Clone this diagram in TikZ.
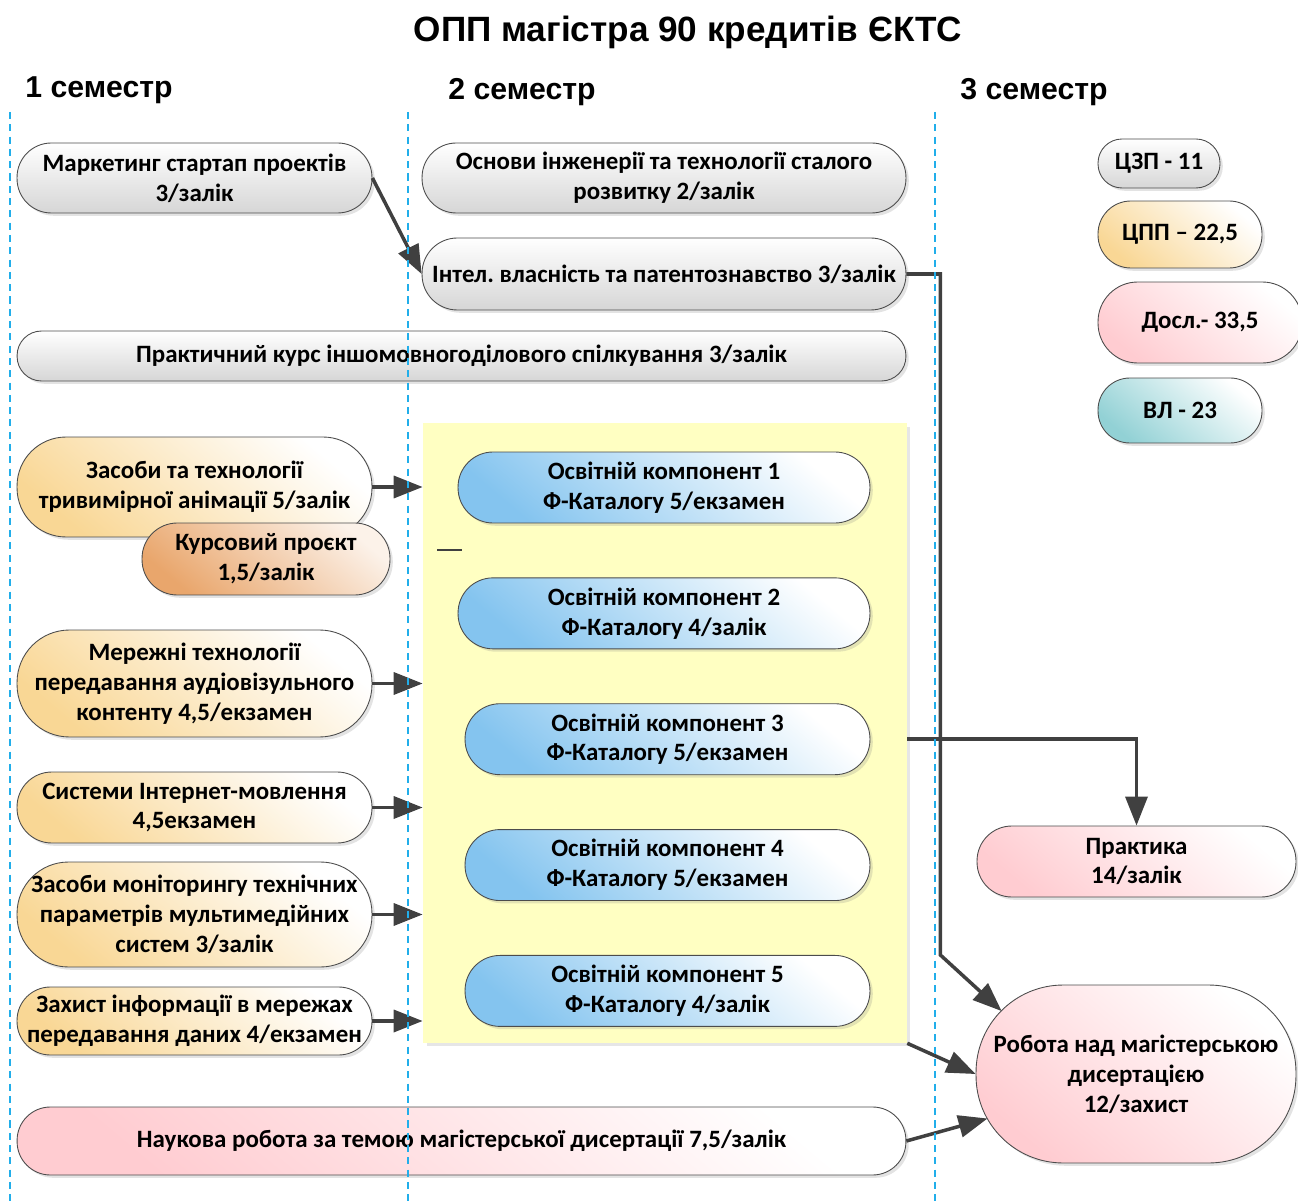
\documentclass[tikz,border=0pt]{standalone}
\usepackage{fontspec}
\setmainfont{Carlito}
\newfontfamily\titlefont{Liberation Sans}
\usepackage{xcolor}
\usepackage{tikz}
\usetikzlibrary{positioning,shadows,arrows.meta,calc}
\frenchspacing

\definecolor{lineGrey}{HTML}{404040}
\definecolor{sepBlue}{HTML}{21AEEA}
\definecolor{fillGrey}{HTML}{D6D6D6}
\definecolor{fillOrange}{HTML}{F9D795}
\definecolor{fillCourse}{HTML}{E9A66C}
\definecolor{fillBlue}{HTML}{84C4EF}
\definecolor{fillPink}{HTML}{FFCCD1}
\definecolor{fillTeal}{HTML}{92D1D5}
\definecolor{fillYellow}{HTML}{FFFFC2}

\begin{document}
\begin{tikzpicture}[x=0.02cm, y=-0.02cm, node distance=1.08cm, font=\bfseries\fontsize{14.2}{17}\selectfont]
    % Define styles
    \tikzstyle{pill} = [rectangle, draw=black!70, line width=0.5pt, align=center, inner sep=0pt, drop shadow={shadow xshift=1.6pt, shadow yshift=-1.6pt, opacity=0.22}]
    \tikzstyle{hgt} = [minimum height=#1, rounded corners=#1*0.49]
    \tikzstyle{greybox} = [pill, top color=white, bottom color=fillGrey]
    \tikzstyle{orangebox} = [pill, top color=white, bottom color=fillOrange, shading angle=-40]
    \tikzstyle{coursebox} = [pill, top color=white!85!fillCourse, bottom color=fillCourse, shading angle=-40]
    \tikzstyle{bluebox} = [pill, top color=white, bottom color=fillBlue, shading angle=-40, minimum height=1.42cm, rounded corners=0.7cm]
    \tikzstyle{pinkbox} = [pill, top color=white, bottom color=fillPink, shading angle=-40]
    \tikzstyle{tealbox} = [pill, top color=white, bottom color=fillTeal, shading angle=-40]
    \tikzstyle{pool} = [rectangle, fill=fillYellow, inner sep=0pt, drop shadow={shadow xshift=2pt, shadow yshift=-2pt, opacity=0.2}]
    \tikzstyle{semester} = [anchor=west, inner sep=0pt, font=\titlefont\bfseries\fontsize{17.2}{20}\selectfont]
    \tikzstyle{sep} = [sepBlue, line width=0.8pt, dash pattern=on 4pt off 3pt]
    \tikzstyle{arrow} = [line width=2pt, draw=lineGrey, -{Triangle[length=0.58cm, width=0.44cm]}]

    \useasboundingbox (0,0) rectangle (1298,1202);

    % Headings
    \node [font=\titlefont\bfseries\fontsize{20}{24}\selectfont] (title) at (688,32) {ОПП магістра 90 кредитів ЄКТС};
    \node [semester] (sem1) at (25,90) {1 семестр};
    \node [semester] (sem2) at (448,92) {2 семестр};
    \node [semester] (sem3) at (960,92) {3 семестр};

    % Catalogue block
    \node [pool, minimum width=9.68cm, minimum height=12.4cm] (pool) at (665,733) {};

    % Nodes
    \node [greybox, minimum width=7.1cm, hgt=1.4cm] (mkt) at (194.5,178) {Маркетинг стартап проектів\\3/залік};
    \node [greybox, minimum width=9.68cm, hgt=1.4cm] (basics) at (664,178) {Основи інженерії та технології сталого\\розвитку 2/залік};
    \node [greybox, minimum width=9.68cm, hgt=1.44cm] (ip) at (664,274) {Інтел. власність та патентознавство 3/залік};
    \node [greybox, minimum width=17.78cm, hgt=1.0cm] (lang) at (461.5,356) {Практичний курс іншомовногоділового спілкування 3/залік};

    \node [orangebox, minimum width=7.1cm, hgt=2.0cm] (anim) at (194.5,487) {Засоби та технології\\тривимірної анімації 5/залік};
    \node [coursebox, minimum width=4.96cm, hgt=1.44cm] (course) at (266,559) {Курсовий проєкт\\1,5/залік};
    \node [orangebox, minimum width=7.1cm, hgt=2.14cm] (net) at (194.5,683.5) {Мережні технології\\передавання аудіовізульного\\контенту 4,5/екзамен};
    \node [orangebox, minimum width=7.1cm, hgt=1.42cm] (web) at (194.5,807.5) {Системи Інтернет-мовлення\\4,5екзамен};
    \node [orangebox, minimum width=7.1cm, hgt=2.1cm] (mon) at (194.5,914.5) {Засоби моніторингу технічних\\параметрів мультимедійних\\систем 3/залік};
    \node [orangebox, minimum width=7.1cm, hgt=1.36cm] (sec) at (194.5,1021) {Захист інформації в мережах\\передавання даних 4/екзамен};
    \node [pinkbox, minimum width=17.78cm, hgt=1.36cm] (sci) at (461.5,1141) {Наукова робота за темою магістерської дисертації 7,5/залік};

    \node [bluebox, minimum width=8.24cm] (ok1) at (664,487.5) {Освітній компонент 1\\Ф-Каталогу 5/екзамен};
    \node [bluebox, minimum width=8.24cm, below=of ok1] (ok2) {Освітній компонент 2\\Ф-Каталогу 4/залік};
    \node [bluebox, minimum width=8.1cm, below=of ok2, xshift=0.07cm] (ok3) {Освітній компонент 3\\Ф-Каталогу 5/екзамен};
    \node [bluebox, minimum width=8.1cm, below=of ok3] (ok4) {Освітній компонент 4\\Ф-Каталогу 5/екзамен};
    \node [bluebox, minimum width=8.1cm, below=of ok4] (ok5) {Освітній компонент 5\\Ф-Каталогу 4/залік};

    \node [greybox, minimum width=2.44cm, hgt=0.98cm] (czp) at (1159,163.5) {ЦЗП - 11};
    \node [orangebox, minimum width=3.28cm, hgt=1.34cm] (cpp) at (1180,234.5) {ЦПП – 22,5};
    \node [pinkbox, minimum width=4.08cm, hgt=1.62cm] (dosl) at (1200,322.5) {Досл.- 33,5};
    \node [tealbox, minimum width=3.28cm, hgt=1.3cm] (vl) at (1180,410.5) {ВЛ - 23};

    \node [pinkbox, minimum width=6.38cm, hgt=1.42cm] (prac) at (1136.5,861.5) {Практика\\14/залік};
    \node [pinkbox, minimum width=6.4cm, hgt=3.56cm] (thesis) at (1136,1074) {Робота над магістерською\\дисертацією\\12/захист};
    \coordinate (thesisArc) at ($(thesis.west)+(89,0)$);

    % Arrows
    \draw [arrow] (mkt.east) -- (ip.west);
    \draw [arrow] (ip.east) -- ++(34,0) -- ++(0,681) -- ($(thesisArc)+(-135:89)$);
    \draw [arrow] (anim.east) -- (anim.east -| pool.west);
    \draw [arrow] (net.east) -- (net.east -| pool.west);
    \draw [arrow] (web.east) -- (web.east -| pool.west);
    \draw [arrow] (mon.east) -- (mon.east -| pool.west);
    \draw [arrow] (sec.east) -- (sec.east -| pool.west);
    \draw [arrow] (ok3.east -| pool.east) -| (prac.north);
    \draw [arrow] (pool.south east) -- (thesis.west);
    \draw [arrow] (sci.east) -- ($(thesisArc)+(150:89)$);
    \draw [lineGrey, line width=1pt] (437,550) -- (462,550);

    % Semester separators
    \draw [sep] (10,112) -- (10,1202);
    \draw [sep] (408,112) -- (408,1202);
    \draw [sep] (935,112) -- (935,1202);
\end{tikzpicture}
\end{document}
